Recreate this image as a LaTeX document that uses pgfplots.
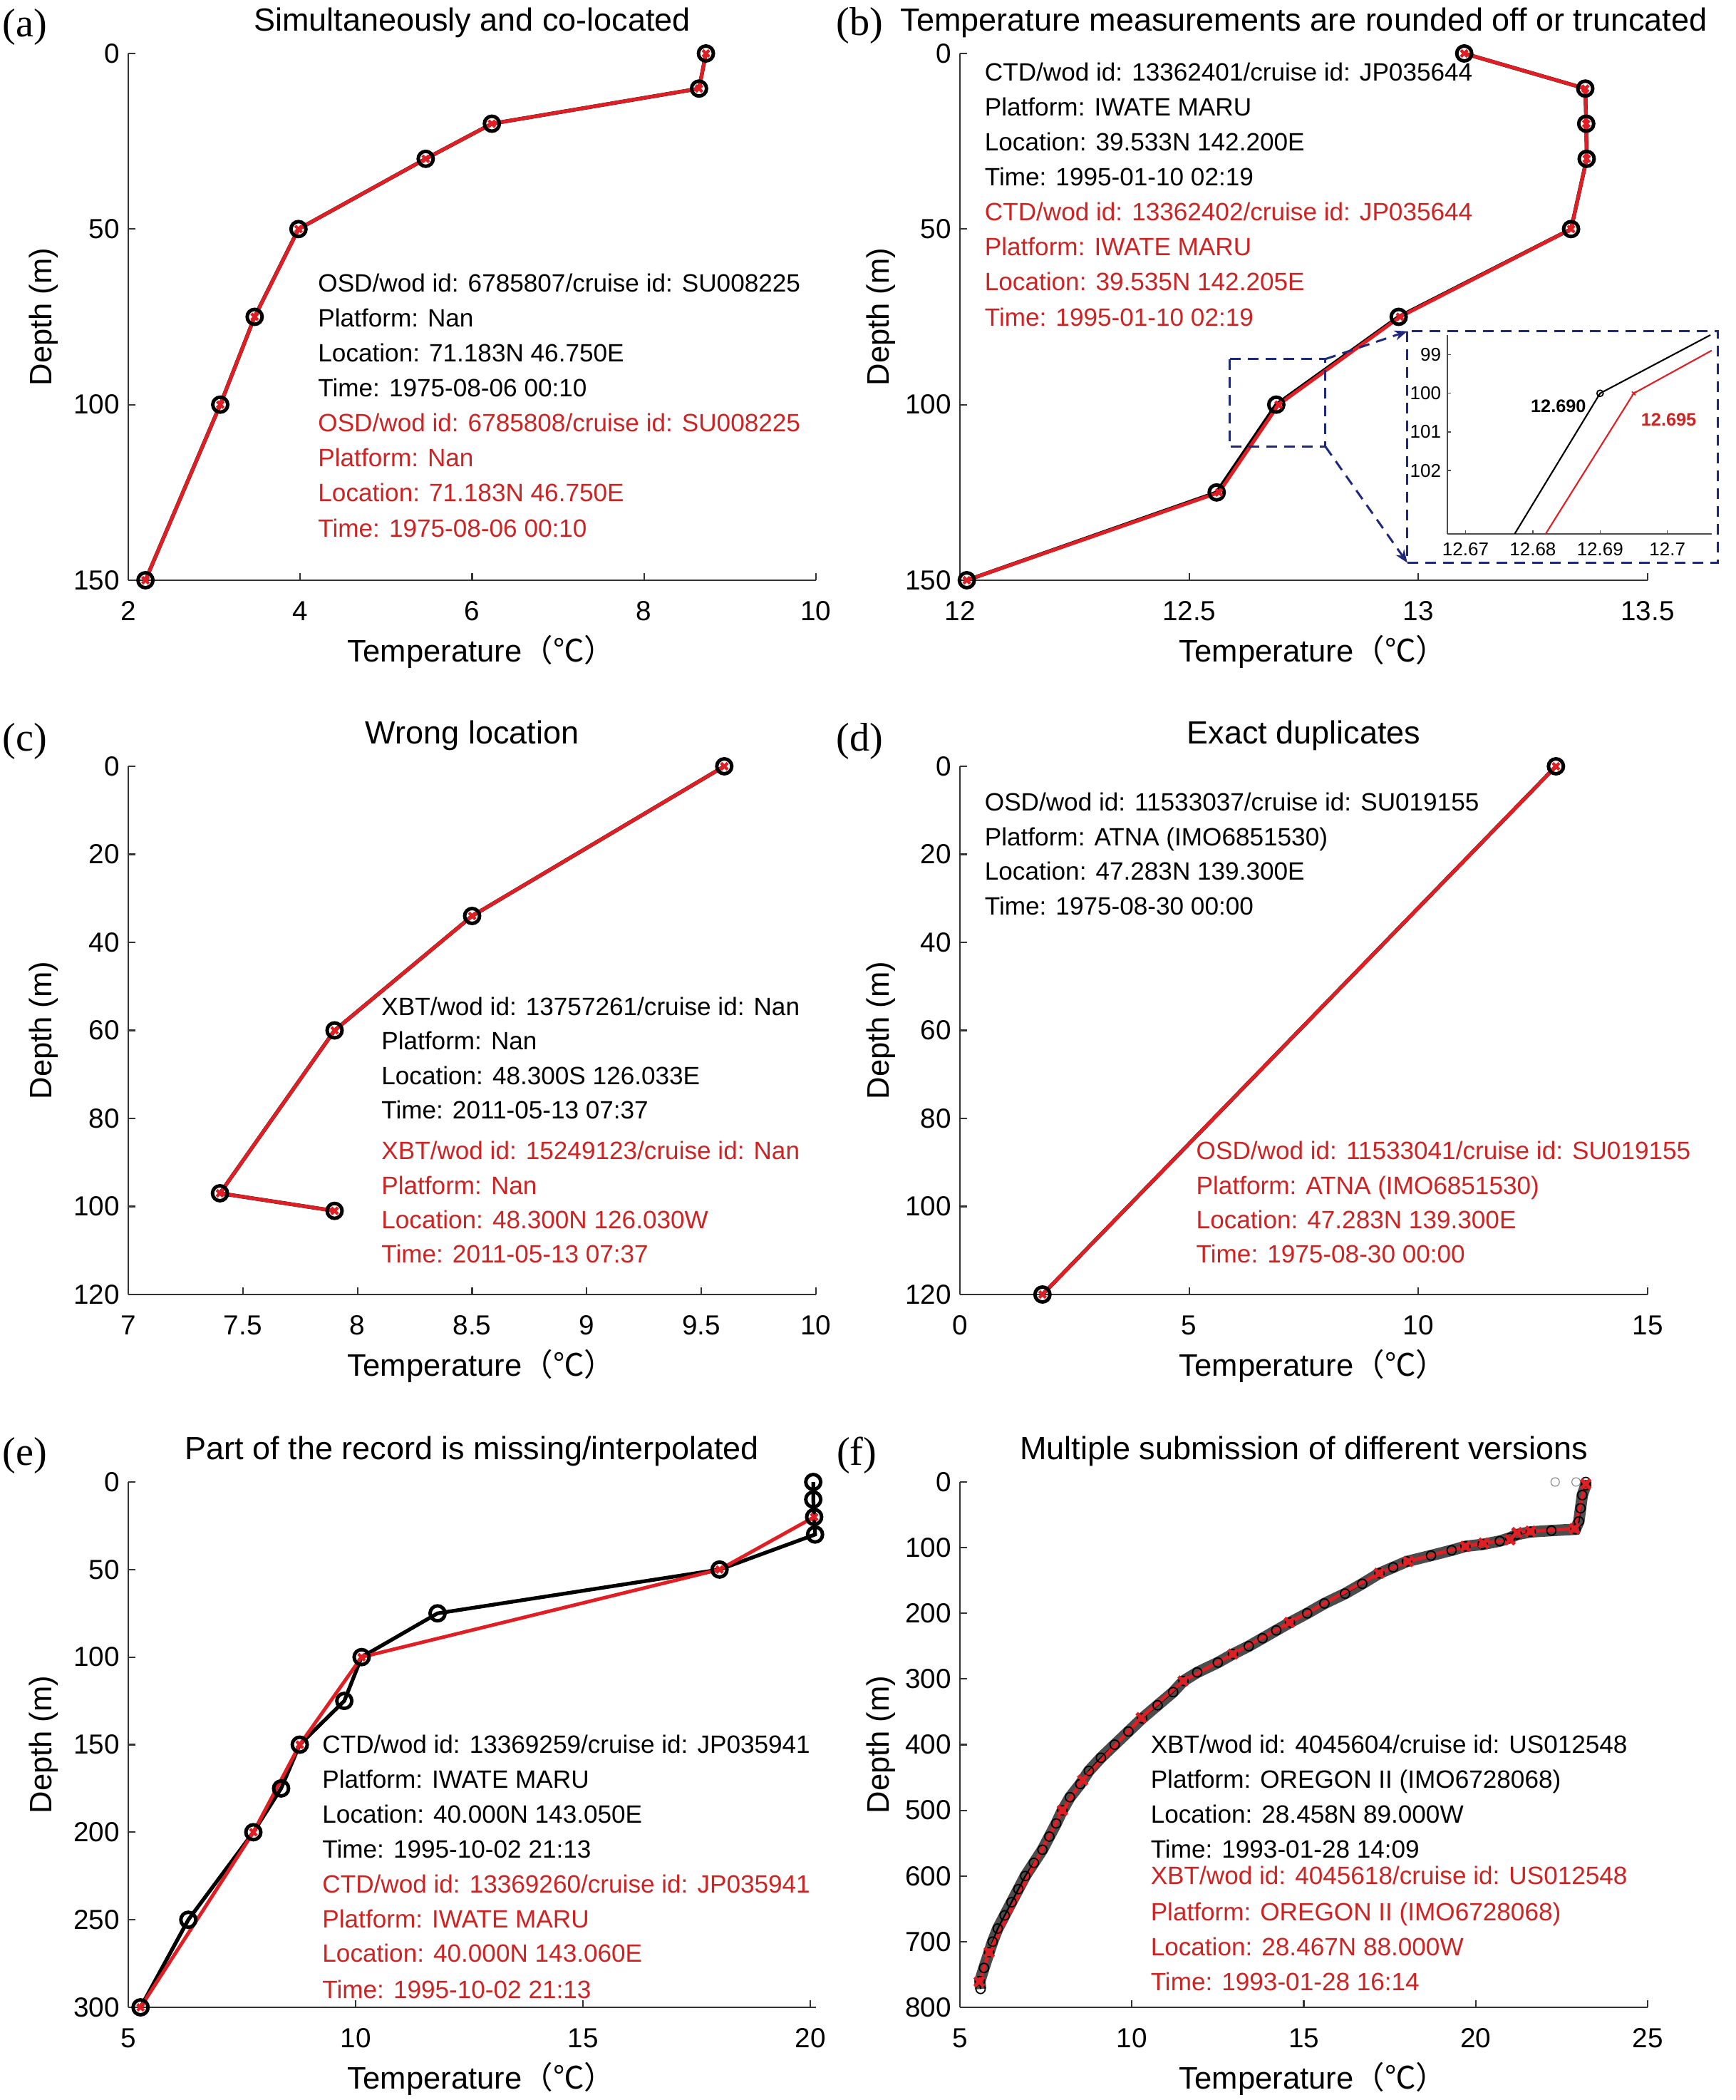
\documentclass[border=0pt]{standalone}
\usepackage{fontspec}
\setmainfont{Liberation Sans}
\newfontfamily\timesfont{Liberation Serif}
\newfontfamily\cjk{Noto Sans CJK SC}
\usepackage{pgfplots}
\usepackage{pgfplotstable}
\pgfplotsset{compat=1.18}
\usetikzlibrary{arrows.meta}

\definecolor{matred}{RGB}{225,30,35}
\definecolor{txtred}{RGB}{205,35,35}
\definecolor{navy}{RGB}{30,40,125}

\newcommand{\annfont}{\fontsize{10}{12}\selectfont}
\newcommand{\tl}[4]{\node[anchor=base west,inner sep=0pt,text=#1,font=\annfont] at (#2,#3) {#4};}

\pgfplotsset{
  prof/.style={
    scale only axis, width=9.65cm,
    y dir=reverse,
    axis x line*=bottom, axis y line*=left,
    axis line style={draw=black!80, line width=0.6pt, -},
    tick style={black!80, line width=0.6pt},
    major tick length=0.1cm,
    tick align=inside,
    ticklabel style={font=\fontsize{11}{13}\selectfont},
    xticklabel style={yshift=-0.17cm},
    /pgf/number format/assume math mode=true,
    clip=false,
    xlabel={Temperature{\cjk （℃）}},
    ylabel={Depth (m)},
    label style={font=\fontsize{12.4}{14}\selectfont},
    xlabel style={at={(axis description cs:0.5,-0.136)},anchor=center,xshift=0.13cm},
    ylabel style={at={(axis description cs:-0.123,0.5)},anchor=center},
    every axis title shift=0pt,
    title style={at={(axis description cs:0.5,1.058)},anchor=center,font=\fontsize{12.8}{14}\selectfont},
  },
  rightcol/.style={ylabel style={at={(axis description cs:-0.115,0.5)}}},
  blk/.style={black, line width=1.5pt, mark=o, mark size=0.105cm, mark options={line width=1.4pt, solid}},
  redp/.style={matred, line width=1.4pt, mark=x, mark size=0.065cm, mark options={line width=1.2pt, solid}},
}

% (a) simultaneous and co-located
\pgfplotstableread{
T D
8.72 0
8.64 10
6.23 20
5.46 30
3.98 50
3.47 75
3.07 100
2.20 150
}\dataA

% (b) rounded off / truncated
\pgfplotstableread{
T D
13.10 0
13.364 10
13.366 20
13.367 30
13.333 50
12.957 75
12.690 100
12.560 125
12.015 150
}\dataBk
\pgfplotstableread{
T D
13.10 0
13.364 10
13.366 20
13.367 30
13.333 50
12.960 75
12.695 100
12.565 125
12.015 150
}\dataBr
% zoomed segments near 100 m
\pgfplotstableread{
T D
12.6773 103.64
12.6900 100.00
12.7064 98.49
}\insBk
\pgfplotstableread{
T D
12.6819 103.64
12.6950 100.00
12.7066 98.89
}\insBr

% (c) wrong location
\pgfplotstableread{
T D
9.60 0
8.50 34
7.90 60
7.40 97
7.90 101
}\dataC

% (d) exact duplicates
\pgfplotstableread{
T D
13.0 0
1.8 120
}\dataD

% (e) missing / interpolated
\pgfplotstableread{
T D
20.06 0
20.06 10
20.08 20
20.10 30
18.00 50
11.80 75
10.13 100
9.75 125
8.77 150
8.36 175
7.75 200
6.32 250
5.27 300
}\dataEk
\pgfplotstableread{
T D
20.08 20
18.00 50
10.13 100
8.77 150
7.75 200
5.27 300
}\dataEr

% (f) multiple versions
\pgfplotstableread{
T D
23.2 0
23.2 5
23.1 20
23.05 40
23.0 60
22.9 72
22.2 74
21.6 76
21.2 80
21.0 85
20.7 90
20.2 95
19.7 98
19.3 104
18.7 112
18.0 121
17.6 130
17.2 139
16.7 155
16.2 170
15.6 185
15.1 200
14.6 214
14.2 226
13.8 238
13.4 250
12.94 262
12.5 275
11.9 290
11.5 303
11.2 320
10.75 340
10.3 360
9.9 380
9.5 400
9.1 420
8.75 440
8.5 460
8.2 480
7.98 500
7.8 520
7.6 540
7.4 560
7.15 580
6.9 600
6.7 620
6.5 640
6.3 660
6.1 680
5.95 700
5.85 716
5.7 740
5.58 760
5.6 772
}\dataFk
\pgfplotstableread{
T D
23.2 3
22.87 71
21.59 75
21.2 77
21.0 88
20.23 93
19.7 98
18.04 121
17.19 139
14.58 214
12.94 262
11.49 303
10.27 359
8.57 454
7.98 500
5.85 716
5.56 761
}\dataFr
\pgfplotstableread{
T D
22.31 0
22.92 0
}\dataFs

\begin{document}
\begin{tikzpicture}
\useasboundingbox (0,0) rectangle (24.36,29.46);

% ---------- (a)
\begin{axis}[prof, at={(1.80cm,21.32cm)}, anchor=south west, height=7.39cm,
  xmin=2, xmax=10, ymin=0, ymax=150, xtick={2,4,6,8,10}, ytick={0,50,100,150},
  title={Simultaneously and co-located}]
\addplot[blk] table[x=T,y=D] {\dataA};
\addplot[redp] table[x=T,y=D] {\dataA};
\end{axis}

% ---------- (b)
\begin{axis}[prof, rightcol, at={(13.47cm,21.32cm)}, anchor=south west, height=7.39cm,
  xmin=12, xmax=13.5, ymin=0, ymax=150, xtick={12,12.5,13,13.5}, ytick={0,50,100,150},
  title={Temperature measurements are rounded off or truncated}]
\addplot[blk] table[x=T,y=D] {\dataBk};
\addplot[redp] table[x=T,y=D] {\dataBr};
\end{axis}

% inset of (b)
\begin{axis}[scale only axis, at={(20.31cm,21.97cm)}, anchor=south west,
  width=3.71cm, height=2.79cm, y dir=reverse,
  axis x line*=bottom, axis y line*=left,
  axis line style={draw=black!70, line width=0.4pt, -},
  tick style={black!70, line width=0.4pt}, major tick length=0.05cm, tick align=inside,
  ticklabel style={font=\fontsize{7.4}{8}\selectfont},
  /pgf/number format/assume math mode=true,
  xmin=12.6673, xmax=12.7066, ymin=98.49, ymax=103.64,
  xtick={12.67,12.68,12.69,12.7}, ytick={99,100,101,102},
  xticklabels={12.67,12.68,12.69,12.7},
  yticklabel style={xshift=1pt}]
\addplot[black, line width=0.6pt, mark=o, mark size=0.045cm, mark repeat=3, mark phase=2, mark options={line width=0.5pt}] table[x=T,y=D] {\insBk};
\addplot[matred, line width=0.6pt, mark=x, mark size=0.035cm, mark repeat=3, mark phase=2, mark options={line width=0.5pt}] table[x=T,y=D] {\insBr};
\end{axis}

% ---------- (c)
\begin{axis}[prof, at={(1.80cm,11.30cm)}, anchor=south west, height=7.41cm,
  xmin=7, xmax=10, ymin=0, ymax=120, xtick={7,7.5,...,10}, ytick={0,20,...,120},
  title={Wrong location}]
\addplot[blk] table[x=T,y=D] {\dataC};
\addplot[redp] table[x=T,y=D] {\dataC};
\end{axis}

% ---------- (d)
\begin{axis}[prof, rightcol, at={(13.47cm,11.30cm)}, anchor=south west, height=7.41cm,
  xmin=0, xmax=15, ymin=0, ymax=120, xtick={0,5,10,15}, ytick={0,20,...,120},
  title={Exact duplicates}]
\addplot[blk] table[x=T,y=D] {\dataD};
\addplot[redp] table[x=T,y=D] {\dataD};
\end{axis}

% ---------- (e)
\begin{axis}[prof, at={(1.80cm,1.30cm)}, anchor=south west, height=7.37cm,
  xmin=5, xmax=20.12, ymin=0, ymax=300, xtick={5,10,15,20}, ytick={0,50,...,300},
  title={Part of the record is missing/interpolated}]
\addplot[blk] table[x=T,y=D] {\dataEk};
\addplot[redp] table[x=T,y=D] {\dataEr};
\end{axis}

% ---------- (f)
\begin{axis}[prof, rightcol, at={(13.47cm,1.30cm)}, anchor=south west, height=7.37cm,
  xmin=5, xmax=25, ymin=0, ymax=800, xtick={5,10,...,25}, ytick={0,100,...,800},
  title={Multiple submission of different versions}]
\addplot[black!70, line width=0.16cm] table[x=T,y=D] {\dataFk};
\addplot[black, line width=0.6pt, mark=o, mark size=0.065cm, mark options={line width=0.5pt}] table[x=T,y=D] {\dataFk};
\addplot[only marks, gray, mark=o, mark size=0.06cm, mark options={line width=0.3pt}] table[x=T,y=D] {\dataFs};
\addplot[matred, line width=1.4pt, mark=x, mark size=0.09cm, mark options={line width=1.4pt}] table[x=T,y=D] {\dataFr};
\end{axis}

% ---------- texts, dashed boxes (pixel coordinates of the figure)
\begin{scope}[x=0.01cm, y=-0.01cm, yshift=29.46cm]
\node[font=\timesfont\fontsize{16}{18}\selectfont] at (35,38) {(a)};
\node[font=\timesfont\fontsize{16}{18}\selectfont] at (1207,36) {(b)};
\node[font=\timesfont\fontsize{16}{18}\selectfont] at (35,1041) {(c)};
\node[font=\timesfont\fontsize{16}{18}\selectfont] at (1207,1041) {(d)};
\node[font=\timesfont\fontsize{16}{18}\selectfont] at (35,2043) {(e)};
\node[font=\timesfont\fontsize{16}{18}\selectfont] at (1203,2043) {(f)};

% (a)
\tl{black}{446}{410}{OSD/wod id: 6785807/cruise id: SU008225}
\tl{black}{446}{459}{Platform: Nan}
\tl{black}{446}{508}{Location: 71.183N 46.750E}
\tl{black}{446}{557}{Time: 1975-08-06 00:10}
\tl{txtred}{446}{606}{OSD/wod id: 6785808/cruise id: SU008225}
\tl{txtred}{446}{655}{Platform: Nan}
\tl{txtred}{446}{704}{Location: 71.183N 46.750E}
\tl{txtred}{446}{754}{Time: 1975-08-06 00:10}
% (b)
\tl{black}{1382}{114}{CTD/wod id: 13362401/cruise id: JP035644}
\tl{black}{1382}{163}{Platform: IWATE MARU}
\tl{black}{1382}{212}{Location: 39.533N 142.200E}
\tl{black}{1382}{261}{Time: 1995-01-10 02:19}
\tl{txtred}{1382}{310}{CTD/wod id: 13362402/cruise id: JP035644}
\tl{txtred}{1382}{359}{Platform: IWATE MARU}
\tl{txtred}{1382}{408}{Location: 39.535N 142.205E}
\tl{txtred}{1382}{458}{Time: 1995-01-10 02:19}
% (c)
\tl{black}{535}{1425}{XBT/wod id: 13757261/cruise id: Nan}
\tl{black}{535}{1473}{Platform: Nan}
\tl{black}{535}{1522}{Location: 48.300S 126.033E}
\tl{black}{535}{1570}{Time: 2011-05-13 07:37}
\tl{txtred}{535}{1627}{XBT/wod id: 15249123/cruise id: Nan}
\tl{txtred}{535}{1676}{Platform: Nan}
\tl{txtred}{535}{1725}{Location: 48.300N 126.030W}
\tl{txtred}{535}{1773}{Time: 2011-05-13 07:37}
% (d)
\tl{black}{1382}{1138}{OSD/wod id: 11533037/cruise id: SU019155}
\tl{black}{1382}{1187}{Platform: ATNA (IMO6851530)}
\tl{black}{1382}{1235}{Location: 47.283N 139.300E}
\tl{black}{1382}{1284}{Time: 1975-08-30 00:00}
\tl{txtred}{1679}{1627}{OSD/wod id: 11533041/cruise id: SU019155}
\tl{txtred}{1679}{1676}{Platform: ATNA (IMO6851530)}
\tl{txtred}{1679}{1725}{Location: 47.283N 139.300E}
\tl{txtred}{1679}{1773}{Time: 1975-08-30 00:00}
% (e)
\tl{black}{452}{2461}{CTD/wod id: 13369259/cruise id: JP035941}
\tl{black}{452}{2510}{Platform: IWATE MARU}
\tl{black}{452}{2559}{Location: 40.000N 143.050E}
\tl{black}{452}{2608}{Time: 1995-10-02 21:13}
\tl{txtred}{452}{2657}{CTD/wod id: 13369260/cruise id: JP035941}
\tl{txtred}{452}{2706}{Platform: IWATE MARU}
\tl{txtred}{452}{2754}{Location: 40.000N 143.060E}
\tl{txtred}{452}{2805}{Time: 1995-10-02 21:13}
% (f)
\tl{black}{1615}{2461}{XBT/wod id: 4045604/cruise id: US012548}
\tl{black}{1615}{2510}{Platform: OREGON II (IMO6728068)}
\tl{black}{1615}{2559}{Location: 28.458N 89.000W}
\tl{black}{1615}{2608}{Time: 1993-01-28 14:09}
\tl{txtred}{1615}{2645}{XBT/wod id: 4045618/cruise id: US012548}
\tl{txtred}{1615}{2696}{Platform: OREGON II (IMO6728068)}
\tl{txtred}{1615}{2745}{Location: 28.467N 88.000W}
\tl{txtred}{1615}{2794}{Time: 1993-01-28 16:14}

% zoom box and inset frame in (b)
\draw[navy, line width=0.85pt, dash pattern=on 0.15cm off 0.1cm] (1726,504) rectangle (1861,627);
\draw[navy, line width=0.85pt, dash pattern=on 0.15cm off 0.1cm] (1976,465) rectangle (2412,790);
\draw[navy, line width=0.85pt, dash pattern=on 0.15cm off 0.1cm, -{Stealth[length=0.18cm,width=0.14cm]}] (1861,504) -- (1976,465);
\draw[navy, line width=0.85pt, dash pattern=on 0.15cm off 0.1cm, -{Stealth[length=0.18cm,width=0.14cm]}] (1861,627) -- (1976,790);
\node[anchor=east, inner sep=1pt, font=\fontsize{7.2}{8}\selectfont\bfseries] at (2231,570) {12.690};
\node[anchor=west, inner sep=1pt, font=\fontsize{7.2}{8}\selectfont\bfseries, text=txtred] at (2300,589) {12.695};
\end{scope}
\end{tikzpicture}
\end{document}
